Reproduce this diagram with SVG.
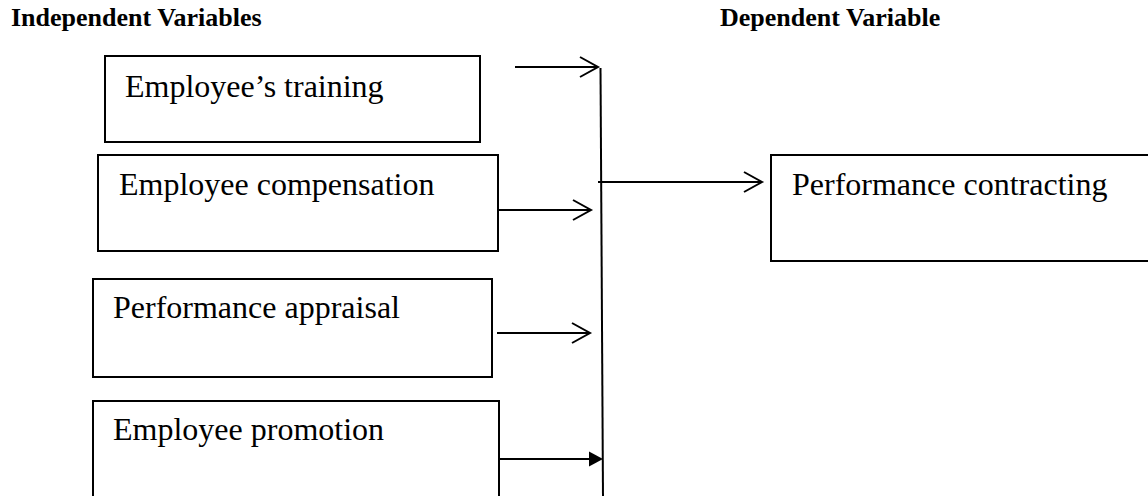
<svg xmlns="http://www.w3.org/2000/svg" width="1148" height="496" viewBox="0 0 1148 496">
<style>
.box{fill:none;stroke:#000;stroke-width:2}
.lbl{font-family:"Liberation Serif","Times New Roman",serif;font-size:32px;fill:#000}
.hdr{font-family:"Liberation Serif","Times New Roman",serif;font-size:26px;font-weight:bold;fill:#000}
.ln{fill:none;stroke:#000;stroke-width:2}
</style>
<rect width="1148" height="496" fill="#fff"/>
<g id="headers">
<text class="hdr" x="11" y="26">Independent Variables</text>
<text class="hdr" x="720" y="26">Dependent Variable</text>
</g>
<g id="node-training">
<rect class="box" x="105" y="56" width="375" height="86"/>
<text class="lbl" x="125" y="97">Employee’s training</text>
</g>
<g id="node-compensation">
<rect class="box" x="98" y="155" width="400" height="96"/>
<text class="lbl" x="119" y="195">Employee compensation</text>
</g>
<g id="node-appraisal">
<rect class="box" x="93" y="279" width="399" height="98"/>
<text class="lbl" x="113" y="318">Performance appraisal</text>
</g>
<g id="node-promotion">
<path class="box" d="M93,500 V401 H499 V500"/>
<text class="lbl" x="113" y="440">Employee promotion</text>
</g>
<g id="node-contracting">
<path class="box" d="M1150,155 H771 V261 H1150"/>
<text class="lbl" x="792" y="195">Performance contracting</text>
</g>
<g id="connectors">
<line class="ln" x1="600.5" y1="68" x2="603" y2="497"/>
<path class="ln" d="M515,67 H598 M580,57 L598,67 L580,77"/>
<path class="ln" d="M499,210 H591 M573,200 L591,210 L573,220"/>
<path class="ln" d="M497,333 H590 M572,323 L590,333 L572,343"/>
<path class="ln" d="M499,459 H592"/>
<polygon points="589,451.5 603,459 589,466.5" fill="#000"/>
<path class="ln" d="M598,182 H762 M744,172 L762,182 L744,192"/>
</g>
</svg>
